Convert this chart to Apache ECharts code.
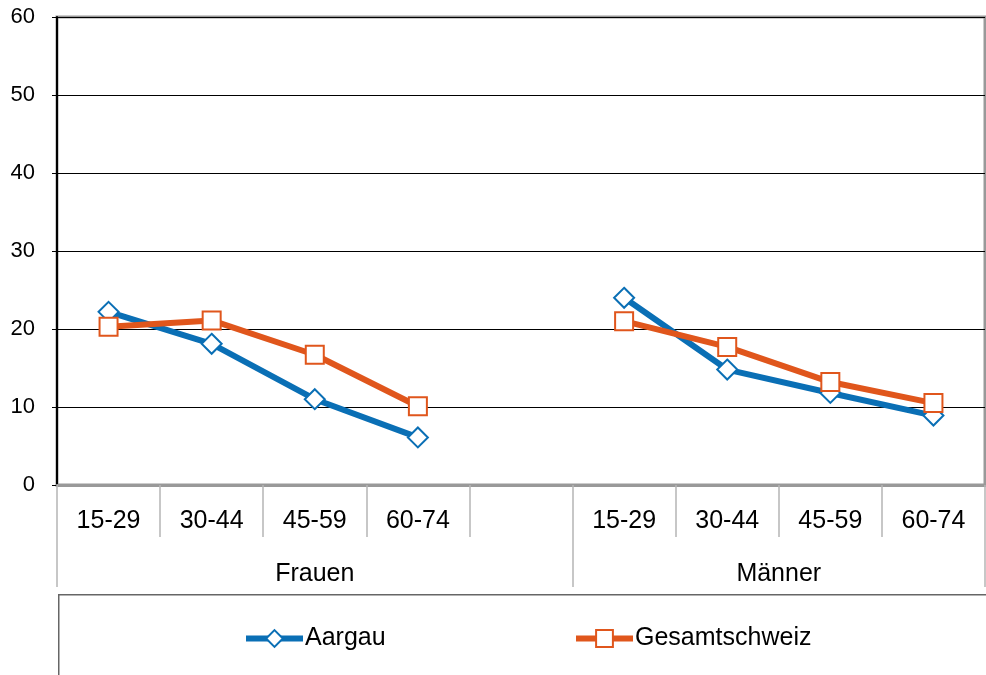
<!DOCTYPE html>
<html>
<head>
<meta charset="utf-8">
<script src="https://cdn.jsdelivr.net/npm/echarts@6/dist/echarts.min.js"></script>
<style>html,body{margin:0;padding:0;background:#fff}#c{width:986px;height:675px}</style>
</head>
<body>
<div id="c"></div>
<script>
const ageGroups = ['15-29', '30-44', '45-59', '60-74'];
const groupNames = ['Frauen', 'Männer'];
const seriesNames = ['Aargau', 'Gesamtschweiz'];
const aargauFrauen = [22.2, 18.1, 11.0, 6.1];
const aargauMaenner = [24.0, 14.8, 11.8, 8.9];
const gesamtFrauen = [20.3, 21.1, 16.7, 10.1];
const gesamtMaenner = [21.0, 17.7, 13.2, 10.5];
const yTicks = [0, 10, 20, 30, 40, 50, 60];

// categories: Frauen ages + one empty slot, then Männer ages
const categories = [...ageGroups, '', ...ageGroups];
const groupSizes = [ageGroups.length + 1, ageGroups.length];
const totalSlots = categories.length;
const groupEdges = [0, groupSizes[0], totalSlots];
const groupCenters = [groupSizes[0] / 2, groupSizes[0] + groupSizes[1] / 2];

const aargauData = [...aargauFrauen, '-', ...aargauMaenner];
const gesamtData = [...gesamtFrauen, '-', ...gesamtMaenner];

const FONT = 'Liberation Sans, Arial, sans-serif';
const BLUE = '#0A6FB5';
const ORANGE = '#E0561C';
const LABEL_FS = 25;

const legendCommon = {
  top: 626, padding: 0,
  itemWidth: 57, itemHeight: 21, itemGap: 0,
  lineStyle: {width: 6},
  textStyle: {fontSize: LABEL_FS, color: '#000', fontFamily: FONT, padding: [0, 0, 0, -3]}
};

const chart = echarts.init(document.getElementById('c'), null, {renderer: 'canvas'});
chart.setOption({
  animation: false,
  backgroundColor: '#fff',
  textStyle: {fontFamily: FONT},
  grid: {
    left: 57, right: 1, top: 17, bottom: 190,
    show: true, borderColor: '#999', borderWidth: 3, backgroundColor: 'transparent'
  },
  graphic: [{
    type: 'rect', left: 58, top: 594, z: -1,
    shape: {width: 940, height: 100},
    style: {fill: '#fff', stroke: '#666', lineWidth: 1.5}
  }],
  legend: [
    Object.assign({data: [seriesNames[0]], left: 243}, legendCommon),
    Object.assign({data: [seriesNames[1]], left: 573}, legendCommon)
  ],
  xAxis: [{
    type: 'category', data: categories, boundaryGap: true, position: 'bottom',
    axisLine: {show: true, lineStyle: {color: '#999', width: 3}},
    axisTick: {show: true, interval: 0, length: 52, lineStyle: {color: '#b5b5b5', width: 1.5}},
    axisLabel: {interval: 0, margin: 24, fontSize: LABEL_FS, color: '#000', fontFamily: FONT},
    splitLine: {show: false}
  }, {
    type: 'value', min: 0, max: totalSlots, position: 'bottom',
    axisLine: {show: false},
    axisTick: {show: true, customValues: groupEdges, length: 102, lineStyle: {color: '#b5b5b5', width: 1.5}},
    axisLabel: {
      customValues: groupCenters, margin: 77, fontSize: LABEL_FS, color: '#000', fontFamily: FONT,
      formatter: v => groupNames[groupCenters.indexOf(v)] || ''
    },
    splitLine: {show: false}
  }],
  yAxis: {
    type: 'value', min: yTicks[0], max: yTicks[yTicks.length - 1], interval: 10,
    axisLine: {show: true, lineStyle: {color: '#000', width: 2}},
    axisTick: {show: true, length: 5, lineStyle: {color: '#000', width: 1}},
    axisLabel: {margin: 22, fontSize: 22, color: '#000', fontFamily: FONT},
    splitLine: {show: true, lineStyle: {color: '#000', width: 1}}
  },
  series: [{
    name: seriesNames[0], type: 'line', data: aargauData, xAxisIndex: 0,
    connectNulls: false,
    symbol: 'diamond', symbolSize: 20,
    lineStyle: {color: BLUE, width: 6},
    itemStyle: {color: '#fff', borderColor: BLUE, borderWidth: 2},
    z: 3
  }, {
    name: seriesNames[1], type: 'line', data: gesamtData, xAxisIndex: 0,
    connectNulls: false,
    symbol: 'rect', symbolSize: 18,
    lineStyle: {color: ORANGE, width: 6},
    itemStyle: {color: '#fff', borderColor: ORANGE, borderWidth: 2},
    z: 4
  }]
});
</script>
</body>
</html>
